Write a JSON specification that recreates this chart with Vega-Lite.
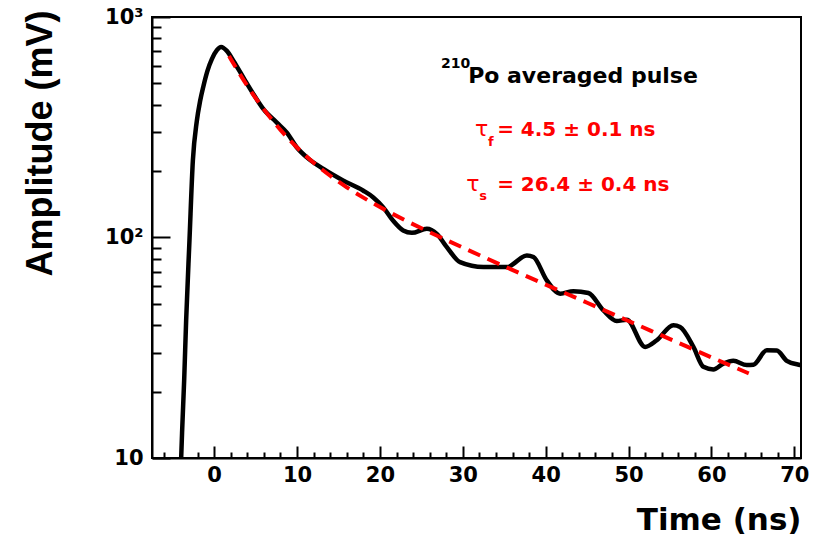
{
  "$schema": "https://vega.github.io/schema/vega-lite/v6.json",
  "width": 649,
  "height": 441,
  "autosize": "none",
  "padding": {"left": 152, "top": 17, "right": 20, "bottom": 85},
  "background": "white",
  "config": {
    "view": {"stroke": "black", "strokeWidth": 2},
    "font": "DejaVu Sans",
    "axis": {"grid": false}
  },
  "datasets": {
    "pulse": [
      {"t": -4.15, "amp": 6}, {"t": -3.98, "amp": 10}, {"t": -3.86, "amp": 13.4}, {"t": -3.62, "amp": 22.5},
      {"t": -3.38, "amp": 42.1}, {"t": -2.98, "amp": 96.9}, {"t": -2.57, "amp": 223}, {"t": -2.09, "amp": 338},
      {"t": -1.69, "amp": 417}, {"t": -1.29, "amp": 487}, {"t": -0.81, "amp": 570}, {"t": -0.28, "amp": 644},
      {"t": 0.33, "amp": 707}, {"t": 0.84, "amp": 732}, {"t": 1.53, "amp": 702},
      {"t": 2.33, "amp": 632}, {"t": 3.53, "amp": 531}, {"t": 4.74, "amp": 447}, {"t": 5.95, "amp": 382},
      {"t": 7.56, "amp": 332}, {"t": 8.77, "amp": 299}, {"t": 9.98, "amp": 256}, {"t": 11.18, "amp": 231},
      {"t": 13.18, "amp": 204.6}, {"t": 15.6, "amp": 181}, {"t": 18.0, "amp": 163}, {"t": 19.2, "amp": 152},
      {"t": 20.4, "amp": 137}, {"t": 21.6, "amp": 119}, {"t": 22.8, "amp": 107.6}, {"t": 23.85, "amp": 105},
      {"t": 25.66, "amp": 109.5}, {"t": 26.86, "amp": 103.9}, {"t": 28.07, "amp": 90.4}, {"t": 29.67, "amp": 77.3},
      {"t": 32.49, "amp": 73.4}, {"t": 35.3, "amp": 73.4}, {"t": 37.72, "amp": 82.9}, {"t": 38.52, "amp": 81.5},
      {"t": 40.13, "amp": 63.9}, {"t": 41.74, "amp": 55.6}, {"t": 43.34, "amp": 57.1}, {"t": 45.15, "amp": 56.0},
      {"t": 46.96, "amp": 46.7}, {"t": 48.57, "amp": 41.8}, {"t": 49.78, "amp": 42.4}, {"t": 51.99, "amp": 31.9},
      {"t": 53.4, "amp": 34.2}, {"t": 55.4, "amp": 40.0}, {"t": 56.21, "amp": 39.3}, {"t": 57.82, "amp": 31.9},
      {"t": 59.02, "amp": 25.9}, {"t": 60.23, "amp": 25.2}, {"t": 61.44, "amp": 26.8}, {"t": 62.64, "amp": 27.6},
      {"t": 64.26, "amp": 26.4}, {"t": 65.06, "amp": 26.5}, {"t": 66.67, "amp": 30.8}, {"t": 67.88, "amp": 30.7},
      {"t": 69.08, "amp": 27.6}, {"t": 70.7, "amp": 26.4}, {"t": 71.5, "amp": 26.0}
    ],
    "fit": [
      {"t": 1.8, "amp": 665}, {"t": 2, "amp": 645.6}, {"t": 3, "amp": 558.7}, {"t": 4, "amp": 487.6},
      {"t": 5, "amp": 429.2}, {"t": 6, "amp": 381.0}, {"t": 7, "amp": 341.0}, {"t": 8, "amp": 307.5},
      {"t": 9, "amp": 279.6}, {"t": 10, "amp": 255.9}, {"t": 12, "amp": 218.5}, {"t": 14, "amp": 190.6},
      {"t": 16, "amp": 168.9}, {"t": 18, "amp": 151.7}, {"t": 20, "amp": 137.4}, {"t": 23, "amp": 119.9},
      {"t": 26, "amp": 105.7}, {"t": 30, "amp": 90.0}, {"t": 35, "amp": 74.0}, {"t": 40, "amp": 61.1},
      {"t": 45, "amp": 50.6}, {"t": 50, "amp": 41.8}, {"t": 55, "amp": 34.6}, {"t": 60, "amp": 28.6},
      {"t": 64.5, "amp": 24.2}
    ]
  },
  "resolve": {"axis": {"x": "independent", "y": "independent"}},
  "layer": [
    {
      "data": {"name": "pulse"},
      "mark": {"type": "line", "color": "black", "strokeWidth": 4.5, "clip": true, "interpolate": "monotone"},
      "encoding": {
        "x": {
          "field": "t", "type": "quantitative",
          "scale": {"domain": [-7.5, 70.8], "nice": false, "zero": false},
          "axis": {
            "orient": "bottom", "title": "Time (ns)", "values": [0, 10, 20, 30, 40, 50, 60, 70],
            "ticks": false, "domain": true, "domainColor": "black", "domainWidth": 2,
            "labelFont": "DejaVu Sans", "labelFontWeight": "bold", "labelFontSize": 21, "labelColor": "black",
            "labelPadding": 6, "labelFlush": false, "labelOverlap": false,
            "titleFont": "DejaVu Sans", "titleFontWeight": "bold", "titleFontSize": 31, "titleColor": "black",
            "titleAnchor": "end", "titleAlign": "right", "titleBaseline": "alphabetic", "titleX": 649, "titleY": 71
          }
        },
        "y": {
          "field": "amp", "type": "quantitative",
          "scale": {"type": "log", "domain": [10, 1000], "nice": false},
          "axis": {
            "orient": "left", "title": "Amplitude (mV)", "values": [10, 100, 1000],
            "labelExpr": "datum.value >= 999 ? '10³' : datum.value >= 99 ? '10²' : '10'",
            "ticks": false, "domain": true, "domainColor": "black", "domainWidth": 2,
            "labelFont": "DejaVu Sans", "labelFontWeight": "bold", "labelFontSize": 21, "labelColor": "black",
            "labelPadding": 9, "labelFlush": false, "labelOverlap": false,
            "titleFont": "Liberation Sans", "titleFontWeight": "bold", "titleFontSize": 36, "titleColor": "black",
            "titleAngle": -90, "titleAlign": "right", "titleBaseline": "alphabetic", "titleX": -101, "titleY": -7
          }
        }
      }
    },
    {
      "data": {"name": "fit"},
      "mark": {"type": "line", "color": "#ff0000", "strokeWidth": 4, "strokeDash": [13, 8], "clip": true, "interpolate": "monotone"},
      "encoding": {
        "x": {
          "field": "t", "type": "quantitative",
          "axis": {"orient": "bottom", "title": null, "labels": false, "domain": false, "ticks": true,
                   "values": [0, 10, 20, 30, 40, 50, 60, 70], "tickSize": -12, "tickWidth": 2, "tickColor": "black"}
        },
        "y": {
          "field": "amp", "type": "quantitative",
          "axis": {"orient": "left", "title": null, "labels": false, "domain": false, "ticks": true,
                   "values": [10, 100, 1000], "tickSize": -18, "tickWidth": 2, "tickColor": "black"}
        }
      }
    },
    {
      "data": {"values": [{}]},
      "mark": {"type": "text", "text": "210", "align": "left", "baseline": "alphabetic", "font": "DejaVu Sans", "fontWeight": "bold", "fontSize": 14, "color": "black"},
      "encoding": {
        "x": {"datum": 27.38, "type": "quantitative",
              "axis": {"orient": "bottom", "title": null, "labels": false, "domain": false, "ticks": true,
                       "values": [-6, -4, -2, 2, 4, 6, 8, 12, 14, 16, 18, 22, 24, 26, 28, 32, 34, 36, 38, 42, 44, 46, 48, 52, 54, 56, 58, 62, 64, 66, 68],
                       "tickSize": -6, "tickWidth": 2, "tickColor": "black"}},
        "y": {"datum": 587.6, "type": "quantitative",
              "axis": {"orient": "left", "title": null, "labels": false, "domain": false, "ticks": true,
                       "values": [20, 30, 40, 50, 60, 70, 80, 90, 200, 300, 400, 500, 600, 700, 800, 900],
                       "tickSize": -9, "tickWidth": 2, "tickColor": "black"}}
      }
    },
    {
      "data": {"values": [{}]},
      "mark": {"type": "text", "text": "Po averaged pulse", "align": "left", "baseline": "alphabetic", "font": "DejaVu Sans", "fontWeight": "bold", "fontSize": 22, "color": "black"},
      "encoding": {
        "x": {"datum": 30.64, "type": "quantitative", "axis": null},
        "y": {"datum": 502.7, "type": "quantitative", "axis": null}
      }
    },
    {
      "data": {"values": [{}]},
      "mark": {"type": "text", "text": "τ", "align": "left", "baseline": "alphabetic", "font": "DejaVu Sans", "fontWeight": "normal", "fontSize": 22, "color": "#ff0000"},
      "encoding": {
        "x": {"datum": 31.48, "type": "quantitative", "axis": null},
        "y": {"datum": 289.4, "type": "quantitative", "axis": null}
      }
    },
    {
      "data": {"values": [{}]},
      "mark": {"type": "text", "text": "f", "align": "left", "baseline": "alphabetic", "font": "DejaVu Sans", "fontWeight": "bold", "fontSize": 13, "color": "#ff0000"},
      "encoding": {
        "x": {"datum": 33.05, "type": "quantitative", "axis": null},
        "y": {"datum": 260.8, "type": "quantitative", "axis": null}
      }
    },
    {
      "data": {"values": [{}]},
      "mark": {"type": "text", "text": "= 4.5 ± 0.1 ns", "align": "left", "baseline": "alphabetic", "font": "DejaVu Sans", "fontWeight": "bold", "fontSize": 20, "color": "#ff0000"},
      "encoding": {
        "x": {"datum": 34.14, "type": "quantitative", "axis": null},
        "y": {"datum": 289.4, "type": "quantitative", "axis": null}
      }
    },
    {
      "data": {"values": [{}]},
      "mark": {"type": "text", "text": "τ", "align": "left", "baseline": "alphabetic", "font": "DejaVu Sans", "fontWeight": "normal", "fontSize": 22, "color": "#ff0000"},
      "encoding": {
        "x": {"datum": 30.4, "type": "quantitative", "axis": null},
        "y": {"datum": 163.2, "type": "quantitative", "axis": null}
      }
    },
    {
      "data": {"values": [{}]},
      "mark": {"type": "text", "text": "s", "align": "left", "baseline": "alphabetic", "font": "DejaVu Sans", "fontWeight": "bold", "fontSize": 13, "color": "#ff0000"},
      "encoding": {
        "x": {"datum": 31.97, "type": "quantitative", "axis": null},
        "y": {"datum": 148.6, "type": "quantitative", "axis": null}
      }
    },
    {
      "data": {"values": [{}]},
      "mark": {"type": "text", "text": "= 26.4 ± 0.4 ns", "align": "left", "baseline": "alphabetic", "font": "DejaVu Sans", "fontWeight": "bold", "fontSize": 20, "color": "#ff0000"},
      "encoding": {
        "x": {"datum": 34.14, "type": "quantitative", "axis": null},
        "y": {"datum": 163.2, "type": "quantitative", "axis": null}
      }
    }
  ]
}
